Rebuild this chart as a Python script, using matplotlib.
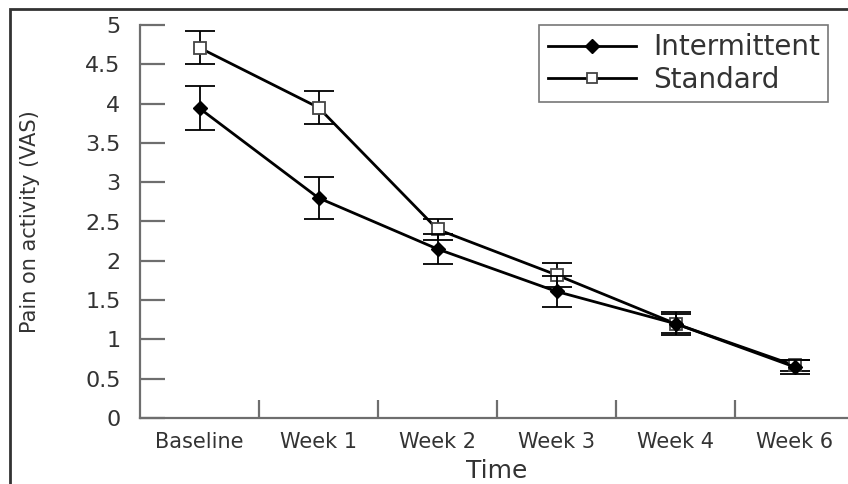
import matplotlib
matplotlib.use('Agg')
import matplotlib.pyplot as plt
from matplotlib.patches import Rectangle
from matplotlib.lines import Line2D
import numpy as np

# data
times = ['Baseline', 'Week 1', 'Week 2', 'Week 3', 'Week 4', 'Week 6']
intermittent = [3.94, 2.80, 2.15, 1.61, 1.20, 0.65]
intermittent_err = [0.28, 0.27, 0.19, 0.20, 0.15, 0.09]
standard = [4.71, 3.95, 2.40, 1.82, 1.20, 0.67]
standard_err = [0.21, 0.21, 0.13, 0.15, 0.12, 0.07]
yticks = [0, 0.5, 1, 1.5, 2, 2.5, 3, 3.5, 4, 4.5, 5]

plt.rcParams['font.family'] = ['DejaVu Sans']
axcol = '#6e6e6e'
txtcol = '#333333'

fig = plt.figure(figsize=(8.48, 4.84), dpi=100)
ax = fig.add_axes([140/848, 66/484, 714/848, 393/484])

x = np.arange(len(times))
ax.errorbar(x, standard, yerr=standard_err, color='black', lw=2, marker='s', ms=8,
            mfc='white', mec='#444444', mew=1.3, capsize=11, elinewidth=1.3, capthick=1.3,
            zorder=3)
ax.errorbar(x, intermittent, yerr=intermittent_err, color='black', lw=2, marker='D', ms=7,
            mfc='black', mec='black', capsize=11, elinewidth=1.3, capthick=1.3,
            zorder=4)

ax.set_xlim(-0.5, 5.5)
ax.set_ylim(0, 5)
for s in ['top', 'right']:
    ax.spines[s].set_visible(False)
for s in ['left', 'bottom']:
    ax.spines[s].set_color(axcol)
    ax.spines[s].set_linewidth(1.6)

ax.set_yticks(yticks)
ax.set_yticklabels(['0', '0.5', '1', '1.5', '2', '2.5', '3', '3.5', '4', '4.5', '5'])
ax.tick_params(axis='y', direction='in', length=18, width=1.6, color=axcol,
               pad=14, labelsize=16, labelcolor=txtcol)
ax.set_xticks(np.arange(0.5, 5.5, 1))
ax.set_xticklabels([])
ax.tick_params(axis='x', which='major', direction='in', length=13, width=1.6, color=axcol)
ax.set_xticks(x, minor=True)
ax.set_xticklabels(times, minor=True)
ax.tick_params(axis='x', which='minor', length=0, pad=10, labelsize=15, labelcolor=txtcol)

ax.set_xlabel('Time', fontsize=18, color=txtcol, labelpad=5)
ax.set_ylabel('Pain on activity (VAS)', fontsize=15, color=txtcol)
ax.yaxis.set_label_coords(-0.14, 0.5)

handles = [Line2D([], [], color='black', lw=2, marker='D', ms=7, mfc='black', mec='black'),
           Line2D([], [], color='black', lw=2, marker='s', ms=7, mfc='white', mec='#444444', mew=1.3)]
leg = ax.legend(handles, ['Intermittent', 'Standard'], loc='upper right',
                bbox_to_anchor=(0.964, 1.0), borderaxespad=0, fontsize=20, frameon=True,
                fancybox=False, edgecolor='#555555', handlelength=3.2, handletextpad=0.6,
                borderpad=0.3, labelspacing=0.15)
leg.get_frame().set_linewidth(1.2)
for t in leg.get_texts():
    t.set_color(txtcol)

# frame around the figure (cropped at right and bottom)
fig.patches.append(Rectangle((10/848, -0.1), 1.2, 1.1 - 9/484, transform=fig.transFigure,
                             fill=False, edgecolor='#333333', lw=2))

fig.savefig('out.png', dpi=100)
